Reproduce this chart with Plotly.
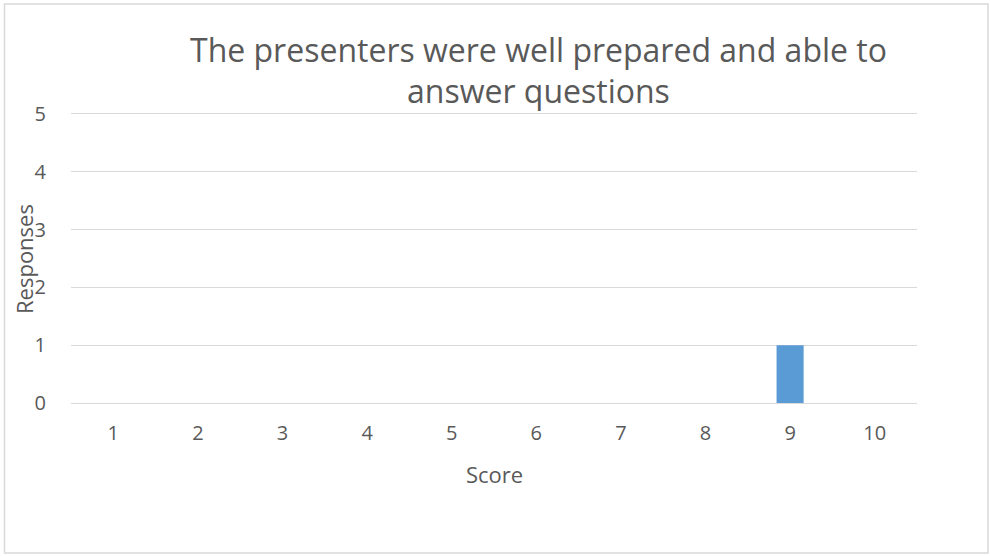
import plotly.graph_objects as go

# Survey data
scores = ['1', '2', '3', '4', '5', '6', '7', '8', '9', '10']
responses = [0, 0, 0, 0, 0, 0, 0, 0, 1, 0]
y_ticks = [0, 1, 2, 3, 4, 5]

title_lines = ['The presenters were well prepared and able to', 'answer questions']

text_color = '#595959'
grid_color = '#D9D9D9'
bar_color = '#5B9BD5'
font_family = 'Open Sans'

fig = go.Figure()
fig.add_trace(go.Bar(x=scores, y=responses,
                     marker=dict(color=bar_color, line=dict(width=0)),
                     showlegend=False))

fig.update_layout(width=990, height=556,
                  margin=dict(l=71, r=73, t=111, b=153, pad=0),
                  paper_bgcolor='white',
                  plot_bgcolor='white',
                  bargap=0.68,
                  font=dict(family=font_family, color=text_color, size=20))

fig.update_xaxes(type='category',
                 showgrid=False,
                 showline=False,
                 zeroline=False,
                 ticks='',
                 tickfont=dict(size=20, color=text_color),
                 ticklabelstandoff=16)
# a little headroom so the gridline at 5 is still drawn
fig.update_yaxes(range=[0, 5.05],
                 tickvals=y_ticks,
                 showgrid=True,
                 gridcolor=grid_color,
                 gridwidth=1,
                 zeroline=True,
                 zerolinecolor=grid_color,
                 zerolinewidth=1,
                 showline=False,
                 ticks='',
                 tickfont=dict(size=20, color=text_color),
                 ticklabelstandoff=24)

# Title, two centred lines
fig.add_annotation(text=title_lines[0], xref='paper', yref='paper',
                   x=0.553, y=1.0, yshift=62, xanchor='center', yanchor='middle',
                   showarrow=False, font=dict(size=32, color=text_color))
fig.add_annotation(text=title_lines[1], xref='paper', yref='paper',
                   x=0.553, y=1.0, yshift=21, xanchor='center', yanchor='middle',
                   showarrow=False, font=dict(size=32, color=text_color))

# Axis titles
fig.add_annotation(text='Score', xref='paper', yref='paper',
                   x=0.5, y=0, yshift=-71, xanchor='center', yanchor='middle',
                   showarrow=False, font=dict(size=22, color=text_color))
fig.add_annotation(text='Responses', xref='paper', yref='paper',
                   x=0, xshift=-47, y=0.5, xanchor='center', yanchor='middle',
                   yshift=-2, textangle=-90, showarrow=False,
                   font=dict(size=22, color=text_color))

# Chart area border
fig.add_shape(type='rect', xref='paper', yref='paper',
              x0=-66.5 / 846, x1=1 + 71 / 846,
              y0=-150 / 292, y1=1 + 107 / 292,
              line=dict(color=grid_color, width=1.5),
              fillcolor='rgba(0,0,0,0)', layer='below')

fig.write_html('out.html', config={'displayModeBar': False},
               post_script="document.body.style.margin='0px';")
